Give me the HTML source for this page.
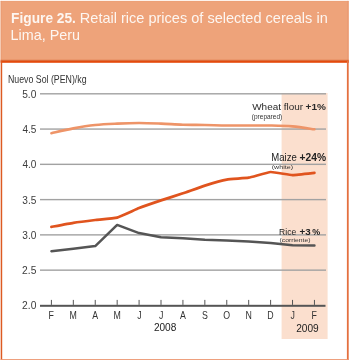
<!DOCTYPE html>
<html><head><meta charset="utf-8"><style>
html,body{margin:0;padding:0;background:#fff;}
body{width:350px;height:360px;overflow:hidden;}
svg{display:block;will-change:transform;}
</style></head><body>
<svg width="350" height="360" viewBox="0 0 350 360" font-family="'Liberation Sans', sans-serif">
<rect x="0" y="0" width="350" height="360" fill="#fff"/>
<rect x="0.6" y="0.9" width="348.2" height="60.5" fill="#eea37a"/>
<rect x="0.6" y="0.9" width="348.2" height="1" fill="#e99870" opacity="0.3"/>
<rect x="0.6" y="0.9" width="1.2" height="60" fill="#e99870" opacity="0.6"/>
<rect x="347" y="0.9" width="1.5" height="60" fill="#e99870" opacity="0.6"/>
<rect x="0.6" y="59.8" width="348.2" height="1.1" fill="#d96a38"/>
<rect x="0.6" y="60.9" width="348.2" height="1.9" fill="#e44a0c"/>
<rect x="0.7" y="61" width="1.5" height="299" fill="#dd5a22"/>
<rect x="346.9" y="61" width="1.8" height="299" fill="#e4703f"/>
<rect x="0.6" y="359.1" width="348" height="0.9" fill="#ec9670"/>
<rect x="281.6" y="93" width="46" height="246" fill="#fbdfce"/>
<rect x="40" y="93.10" width="286" height="1.4" fill="#a2a2a2"/>
<rect x="40" y="128.37" width="286" height="1.4" fill="#a2a2a2"/>
<rect x="40" y="163.64" width="286" height="1.4" fill="#a2a2a2"/>
<rect x="40" y="198.91" width="286" height="1.4" fill="#a2a2a2"/>
<rect x="40" y="234.18" width="286" height="1.4" fill="#a2a2a2"/>
<rect x="40" y="269.45" width="286" height="1.4" fill="#a2a2a2"/>
<rect x="40" y="304.8" width="285.5" height="2" fill="#555"/>
<rect x="50.90" y="299.9" width="1" height="5" fill="#555"/>
<rect x="72.82" y="299.9" width="1" height="5" fill="#555"/>
<rect x="94.74" y="299.9" width="1" height="5" fill="#555"/>
<rect x="116.66" y="299.9" width="1" height="5" fill="#555"/>
<rect x="138.58" y="299.9" width="1" height="5" fill="#555"/>
<rect x="160.50" y="299.9" width="1" height="5" fill="#555"/>
<rect x="182.42" y="299.9" width="1" height="5" fill="#555"/>
<rect x="204.34" y="299.9" width="1" height="5" fill="#555"/>
<rect x="226.26" y="299.9" width="1" height="5" fill="#555"/>
<rect x="248.18" y="299.9" width="1" height="5" fill="#555"/>
<rect x="270.10" y="299.9" width="1" height="5" fill="#555"/>
<rect x="292.02" y="299.9" width="1" height="5" fill="#555"/>
<rect x="313.94" y="299.9" width="1" height="5" fill="#555"/>
<path d="M51.40,133.30 C55.05,132.48 66.01,129.78 73.32,128.40 C80.63,127.02 87.93,125.80 95.24,125.00 C102.55,124.20 109.85,123.93 117.16,123.60 C124.47,123.27 131.77,123.00 139.08,123.00 C146.39,123.00 153.69,123.32 161.00,123.60 C168.31,123.88 175.61,124.47 182.92,124.70 C190.23,124.93 197.53,124.87 204.84,125.00 C212.15,125.13 219.45,125.42 226.76,125.50 C234.07,125.58 241.37,125.50 248.68,125.50 C255.99,125.50 263.29,125.35 270.60,125.50 C277.91,125.65 285.21,125.77 292.52,126.40 C299.83,127.03 310.79,128.82 314.44,129.30" fill="none" stroke="#ee9468" stroke-width="2.6" stroke-linecap="round"/>
<path d="M51.40,226.90 C52.68,226.66 70.76,223.20 73.32,222.80 C75.88,222.40 92.68,220.30 95.24,220.00 C97.80,219.70 114.60,218.29 117.16,217.60 C119.72,216.91 136.52,209.10 139.08,208.10 C141.64,207.10 158.44,201.26 161.00,200.40 C163.56,199.54 180.36,194.16 182.92,193.30 C185.48,192.44 202.28,186.40 204.84,185.60 C207.40,184.80 224.20,180.06 226.76,179.60 C229.32,179.14 246.12,178.14 248.68,177.70 C251.24,177.26 268.04,172.15 270.60,172.00 C273.16,171.85 289.96,175.05 292.52,175.10 C295.08,175.15 313.16,173.03 314.44,172.90" fill="none" stroke="#e0541e" stroke-width="2.7" stroke-linejoin="round" stroke-linecap="round"/>
<polyline points="51.40,251.20 73.32,248.70 95.24,246.10 117.16,224.90 139.08,233.10 161.00,237.20 182.92,238.30 204.84,239.70 226.76,240.50 248.68,241.40 270.60,243.10 292.52,245.30 314.44,245.60" fill="none" stroke="#555" stroke-width="2.5" stroke-linejoin="round" stroke-linecap="round"/>
<text transform="translate(11.08,23.40) scale(0.9807,1)" font-size="14.00" font-weight="bold" fill="#fdf6f1">Figure 25.</text>
<text transform="translate(79.84,23.40) scale(1.0237,1)" font-size="14.20" fill="#fdf6f1">Retail rice prices of selected cereals in</text>
<text transform="translate(10.55,40.20) scale(1.0331,1)" font-size="13.91" fill="#fdf6f1">Lima, Peru</text>
<text transform="translate(7.90,82.90) scale(0.8324,1)" font-size="10.58" fill="#333">Nuevo Sol (PEN)/kg</text>
<text transform="translate(252.20,110.20) scale(1.0258,1)" font-size="9.71" fill="#2a2a2a">Wheat flour</text>
<text transform="translate(305.60,110.20) scale(1.0346,1)" font-size="9.71" font-weight="bold" fill="#2a2a2a">+1%</text>
<text transform="translate(251.81,118.50) scale(1.0223,1)" font-size="6.38" fill="#333">(prepared)</text>
<text transform="translate(271.33,161.40) scale(0.8570,1)" font-size="11.16" fill="#222">Maize</text>
<text transform="translate(299.59,161.20) scale(0.9320,1)" font-size="11.00" font-weight="bold" fill="#222">+24%</text>
<text transform="translate(271.67,169.40) scale(1.1721,1)" font-size="6.09" fill="#333">(white)</text>
<text transform="translate(279.12,234.60) scale(0.8670,1)" font-size="9.86" fill="#222">Rice</text>
<text transform="translate(299.61,234.80) scale(1.0367,1)" font-size="9.43" font-weight="bold" fill="#222">+3</text>
<text transform="translate(312.22,234.80) scale(0.9483,1)" font-size="9.43" font-weight="bold" fill="#222">%</text>
<text transform="translate(279.59,241.90) scale(1.1438,1)" font-size="5.94" fill="#333">(corriente)</text>
<text transform="translate(153.89,331.40) scale(0.9051,1)" font-size="11.16" fill="#222">2008</text>
<text transform="translate(296.19,331.80) scale(0.9336,1)" font-size="10.87" fill="#222">2009</text>
<text transform="translate(22.19,97.70) scale(0.9259,1)" font-size="11.01" fill="#3c3c3c">5.0</text>
<text transform="translate(22.40,132.97) scale(0.9120,1)" font-size="11.01" fill="#3c3c3c">4.5</text>
<text transform="translate(22.40,168.24) scale(0.9120,1)" font-size="11.01" fill="#3c3c3c">4.0</text>
<text transform="translate(22.30,203.51) scale(0.9189,1)" font-size="11.01" fill="#3c3c3c">3.5</text>
<text transform="translate(22.30,238.78) scale(0.9189,1)" font-size="11.01" fill="#3c3c3c">3.0</text>
<text transform="translate(22.09,274.05) scale(0.9330,1)" font-size="11.01" fill="#3c3c3c">2.5</text>
<text transform="translate(22.09,309.32) scale(0.9330,1)" font-size="11.01" fill="#3c3c3c">2.0</text>
<text transform="translate(48.50,318.8) scale(0.88,1)" font-size="10.00" fill="#333">F</text>
<text transform="translate(69.62,318.8) scale(0.88,1)" font-size="10.00" fill="#333">M</text>
<text transform="translate(92.29,318.8) scale(0.88,1)" font-size="10.00" fill="#333">A</text>
<text transform="translate(113.46,318.8) scale(0.88,1)" font-size="10.00" fill="#333">M</text>
<text transform="translate(137.14,318.8) scale(0.88,1)" font-size="10.00" fill="#333">J</text>
<text transform="translate(159.06,318.8) scale(0.88,1)" font-size="10.00" fill="#333">J</text>
<text transform="translate(179.97,318.8) scale(0.88,1)" font-size="10.00" fill="#333">A</text>
<text transform="translate(201.89,318.8) scale(0.88,1)" font-size="10.00" fill="#333">S</text>
<text transform="translate(223.37,318.8) scale(0.88,1)" font-size="10.00" fill="#333">O</text>
<text transform="translate(245.47,318.8) scale(0.88,1)" font-size="10.00" fill="#333">N</text>
<text transform="translate(267.26,318.8) scale(0.88,1)" font-size="10.00" fill="#333">D</text>
<text transform="translate(290.58,318.8) scale(0.88,1)" font-size="10.00" fill="#333">J</text>
<text transform="translate(311.54,318.8) scale(0.88,1)" font-size="10.00" fill="#333">F</text>
</svg>
</body></html>
